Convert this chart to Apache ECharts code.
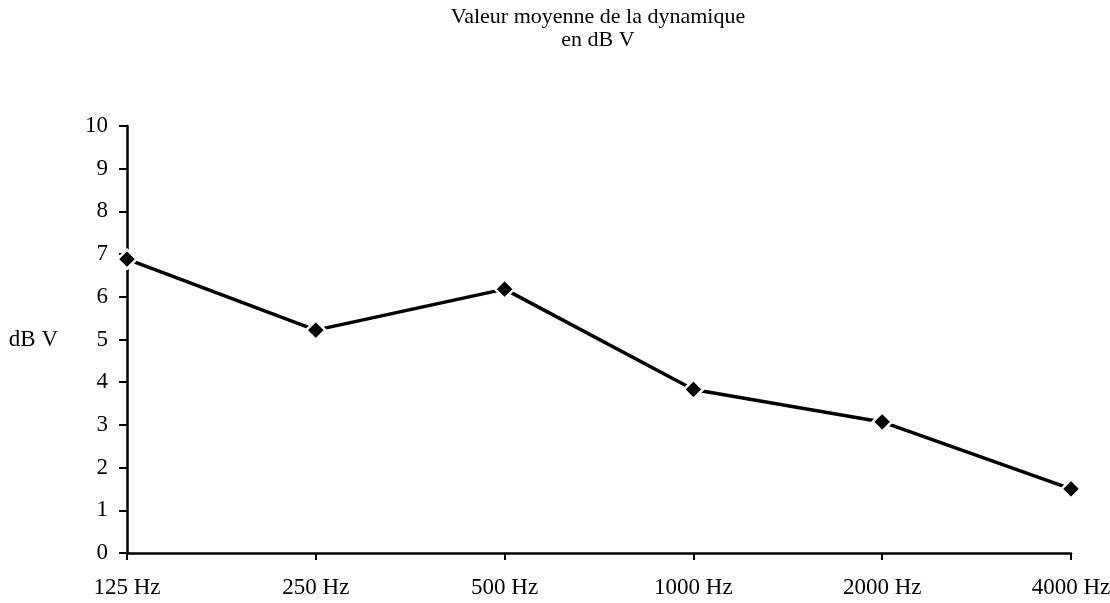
<!DOCTYPE html>
<html>
<head>
<meta charset="utf-8">
<script src="https://cdn.jsdelivr.net/npm/echarts@6/dist/echarts.min.js"></script>
<style>
  html, body { margin: 0; padding: 0; background: #fff; }
  #chart { width: 1110px; height: 603px; }
</style>
</head>
<body>
<div id="chart"></div>
<script>
const categories = ["125 Hz", "250 Hz", "500 Hz", "1000 Hz", "2000 Hz", "4000 Hz"];
const values = [6.88, 5.22, 6.18, 3.83, 3.07, 1.5];
const titleText = "Valeur moyenne de la dynamique\nen dB V";
const yName = "dB V";

const serif = "'Liberation Serif', 'DejaVu Serif', serif";
const chart = echarts.init(document.getElementById("chart"));

const option = {
  backgroundColor: "#fff",
  animation: false,
  title: {
    text: titleText,
    left: 593,
    top: 1,
    textAlign: "center",
    textStyle: {
      fontFamily: serif,
      fontSize: 22,
      fontWeight: "normal",
      color: "#000",
      lineHeight: 23,
    },
  },
  grid: {
    left: 127,
    right: 39,
    top: 126,
    bottom: 50,
    containLabel: false,
    outerBoundsMode: "none",
  },
  xAxis: {
    type: "category",
    data: categories,
    boundaryGap: false,
    axisLine: { lineStyle: { color: "#000", width: 2.5 } },
    axisTick: { alignWithLabel: true, length: 7, lineStyle: { color: "#000", width: 2 } },
    axisLabel: {
      color: "#000",
      fontFamily: serif,
      fontSize: 23,
      margin: 23,
      align: "center",
    },
    splitLine: { show: false },
  },
  yAxis: {
    type: "value",
    min: 0,
    max: 10,
    interval: 1,
    name: yName,
    nameLocation: "middle",
    nameRotate: 0,
    nameGap: 69,
    nameTextStyle: { color: "#000", fontFamily: serif, fontSize: 23, align: "right", padding: [0, 0, 12, 0] },
    axisLine: { show: true, lineStyle: { color: "#000", width: 2.5 } },
    axisTick: { show: true, length: 8, lineStyle: { color: "#000", width: 2 } },
    axisLabel: {
      color: "#000",
      fontFamily: serif,
      fontSize: 23,
      margin: 19,
    },
    splitLine: { show: false },
  },
  series: [
    {
      type: "line",
      data: values,
      symbol: "diamond",
      symbolSize: 19,
      lineStyle: { color: "#000", width: 3.5 },
      itemStyle: { color: "#000", borderColor: "#fff", borderWidth: 2.5 },
    },
  ],
};

chart.setOption(option);
</script>
</body>
</html>
